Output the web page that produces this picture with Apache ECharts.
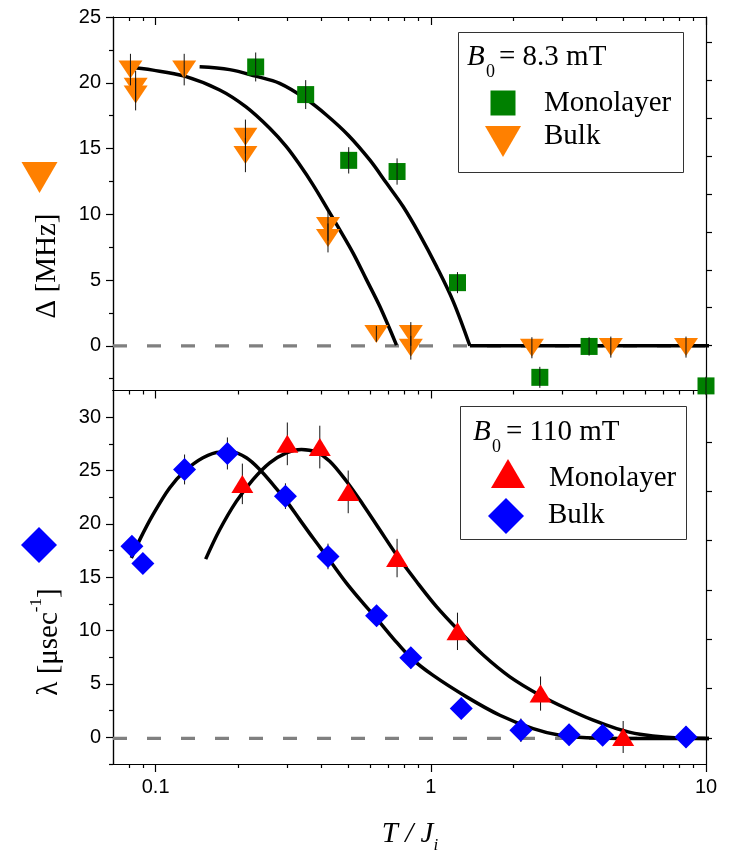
<!DOCTYPE html>
<html>
<head>
<meta charset="utf-8">
<script src="https://cdn.jsdelivr.net/npm/echarts@6.0.0/dist/echarts.min.js"></script>
<style>
  html, body { margin: 0; padding: 0; background: #fff; }
  #main { width: 731px; height: 850px; }
</style>
</head>
<body>
<div id="main"></div>
<script>
// ---- ticks ----
var xMajor = [0.1, 1, 10];
var xMinor = [0.08, 0.09, 0.2, 0.3, 0.4, 0.5, 0.6, 0.7, 0.8, 0.9, 2, 3, 4, 5, 6, 7, 8, 9];
var yTopMajor = [0, 5, 10, 15, 20, 25];
var yTopMinor = [-2.5, 2.5, 7.5, 12.5, 17.5, 22.5];
var yTopRight = [0, 1, 2, 3, 4, 5, 6, 7, 8];
var yBotMajor = [0, 5, 10, 15, 20, 25, 30];
var yBotMinor = [-2.5, 2.5, 7.5, 12.5, 17.5, 22.5, 27.5];
var yBotRight = [0, 1, 2, 3, 4, 5, 6];

// ---- top panel: Delta [MHz], B0 = 8.3 mT ----
var monoTopX = [0.231, 0.351, 0.503, 0.754, 1.25, 2.49, 3.76, 10];
var monoTopY = [21.2, 19.1, 14.1, 13.25, 4.8, -2.4, -0.05, -3.05];
var monoTopErr = [1.1, 1.1, 1.0, 1.0, 0.8, 0.8, 0.7, 0.7];

var bulkTopX = [0.081, 0.0846, 0.0846, 0.127, 0.212, 0.212, 0.423, 0.423, 0.634, 0.846, 0.846, 2.33, 4.51, 8.46];
var bulkTopY = [21.0, 19.7, 19.1, 21.0, 15.9, 14.5, 9.1, 8.2, 0.9, 0.9, -0.15, -0.15, -0.1, -0.1];
var bulkTopErr = [1.2, 1.2, 1.2, 1.2, 1.3, 1.3, 1.1, 1.1, 0.6, 0.9, 0.9, 0.8, 0.8, 0.8];

var monoFitTopX = [0.1445, 0.1858, 0.231, 0.2824, 0.35, 0.4175, 0.5004, 0.6, 0.69, 0.7931, 0.912, 1.0486, 1.2058, 1.3864];
var monoFitTopY = [21.21, 21.0, 20.5, 19.95, 18.8, 17.55, 16.03, 14.13, 12.37, 10.59, 8.44, 6.04, 3.38, 0];
var monoFlatTopX = [1.3864, 10.3];
var monoFlatTopY = [0, 0];

var bulkFitTopX = [0.0782, 0.0978, 0.1274, 0.1709, 0.2125, 0.2598, 0.2986, 0.3339, 0.3733, 0.4231, 0.4669, 0.5219, 0.5836, 0.6524, 0.7505];
var bulkFitTopY = [21.21, 20.96, 20.5, 19.45, 18.18, 16.54, 15.14, 13.76, 12.24, 10.34, 8.82, 7.05, 5.03, 3.0, 0.05];

var zeroTopX = [0.07, 10];
var zeroTopY = [0, 0];

// ---- bottom panel: lambda [usec-1], B0 = 110 mT ----
var monoBotX = [0.2066, 0.301, 0.395, 0.501, 0.754, 1.25, 2.505, 5.0];
var monoBotY = [23.75, 27.5, 27.2, 23.0, 16.8, 9.93, 4.1, 0.03];
var monoBotErr = [1.9, 2.0, 2.0, 2.0, 1.8, 1.75, 1.6, 1.5];

var bulkBotX = [0.082, 0.0899, 0.1274, 0.1823, 0.2963, 0.423, 0.635, 0.846, 1.29, 2.125, 3.18, 4.21, 8.46];
var bulkBotY = [17.9, 16.3, 25.1, 26.6, 22.6, 16.95, 11.4, 7.45, 2.7, 0.66, 0.25, 0.19, 0.03];
var bulkBotErr = [0.8, 0.8, 1.4, 1.5, 1.2, 1.2, 1.0, 1.0, 1.0, 1.1, 1.0, 1.0, 1.0];

var monoFitBotX = [0.152, 0.1709, 0.1965, 0.2258, 0.2598, 0.2986, 0.3386, 0.3839, 0.4292, 0.4937, 0.5674, 0.6524, 0.7505, 0.8871, 1.0486, 1.257, 1.55, 1.938, 2.491, 3.114, 3.892, 4.735, 5.754, 7.194, 10.3];
var monoFitBotY = [16.7, 19.45, 22.11, 24.15, 25.72, 26.66, 26.97, 26.72, 25.88, 24.0, 21.8, 19.45, 17.1, 14.6, 12.25, 10.06, 7.71, 5.67, 3.95, 2.7, 1.6, 0.82, 0.28, 0.0, -0.1];

var bulkFitBotX = [0.0816, 0.0875, 0.0978, 0.1124, 0.1274, 0.1486, 0.1709, 0.191, 0.2137, 0.2388, 0.267, 0.2961, 0.3339, 0.3733, 0.4231, 0.4937, 0.5674, 0.6346, 0.7295, 0.8506, 1.0197, 1.3485, 1.782, 2.355, 2.944, 3.684, 5.44, 10.3];
var bulkFitBotY = [16.8, 18.5, 20.86, 23.37, 24.93, 26.19, 26.72, 26.72, 26.19, 25.1, 23.68, 22.27, 20.4, 18.67, 16.8, 14.45, 12.57, 11.15, 9.28, 7.4, 5.8, 3.79, 2.07, 0.82, 0.19, -0.03, -0.1, -0.1];

var zeroBotX = [0.07, 10];
var zeroBotY = [-0.1, -0.1];

var SERIF = '"Liberation Serif", "Times New Roman", serif';
var SANS = '"Liberation Sans", Arial, sans-serif';
var ORANGE = '#FF8000', GREEN = '#008000', RED = '#FF0000', BLUE = '#0000FF';
var TRI_DOWN = 'path://M0,0L24,0L12,18Z';
var TRI_UP = 'path://M0,18L11,0L22,18Z';

function zip(xs, ys) {
    return xs.map(function (x, i) { return [x, ys[i]]; });
}

function xAx(grid, pos, ticks, len, inside, labels) {
    return {
        type: 'log', logBase: 10, gridIndex: grid, position: pos, min: 0.07, max: 10,
        axisLine: { show: true, onZero: false, lineStyle: { color: '#000', width: 1.2 } },
        axisTick: { show: true, inside: inside, length: len, customValues: ticks, lineStyle: { color: '#000', width: 1.2 } },
        axisLabel: labels ? { customValues: labels, margin: 13, color: '#000', fontSize: 20, fontFamily: SANS } : { show: false },
        splitLine: { show: false }
    };
}

function yAx(grid, pos, min, max, ticks, len, labels) {
    return {
        type: 'value', gridIndex: grid, position: pos, min: min, max: max,
        axisLine: { show: true, onZero: false, lineStyle: { color: '#000', width: 1.2 } },
        axisTick: { show: true, inside: false, length: len, customValues: ticks, lineStyle: { color: '#000', width: 1.2 } },
        axisLabel: labels ? { customValues: labels, margin: 12, color: '#000', fontSize: 20, fontFamily: SANS } : { show: false },
        splitLine: { show: false }
    };
}

function errBars(xs, ys, errs, xi, yi, z) {
    return {
        type: 'custom', xAxisIndex: xi, yAxisIndex: yi, z: z, silent: true, clip: false,
        data: xs.map(function (x, i) { return [x, ys[i] - errs[i], ys[i] + errs[i]]; }),
        encode: { x: 0, y: [1, 2] },
        renderItem: function (params, api) {
            var lo = api.coord([api.value(0), api.value(1)]);
            var hi = api.coord([api.value(0), api.value(2)]);
            return {
                type: 'line',
                shape: { x1: lo[0], y1: lo[1], x2: hi[0], y2: hi[1] },
                style: { stroke: '#111', lineWidth: 1 }
            };
        }
    };
}

function fitLine(xs, ys, xi, yi) {
    return {
        type: 'line', xAxisIndex: xi, yAxisIndex: yi, data: zip(xs, ys),
        smooth: 0.35, showSymbol: false, z: 2, silent: true, clip: false,
        lineStyle: { color: '#000', width: 3.5 }
    };
}

function zeroLine(xs, ys, xi, yi) {
    return {
        type: 'line', xAxisIndex: xi, yAxisIndex: yi, data: zip(xs, ys),
        showSymbol: false, z: 1, silent: true,
        lineStyle: { color: '#808080', width: 3.3, type: [14, 20] }
    };
}

function scatter(xs, ys, xi, yi, symbol, size, color, z) {
    return {
        type: 'scatter', xAxisIndex: xi, yAxisIndex: yi, data: zip(xs, ys),
        symbol: symbol, symbolSize: size, clip: false, z: z,
        itemStyle: { color: color, opacity: 1 }
    };
}

var chart = echarts.init(document.getElementById('main'), null, { renderer: 'canvas' });

var option = {
    animation: false,
    backgroundColor: '#fff',
    grid: [
        { left: 113, right: 25, top: 17, height: 373.5 },
        { left: 113, right: 25, top: 390.5, height: 373.5 }
    ],
    xAxis: [
        xAx(0, 'bottom', xMajor, 8, false),
        xAx(0, 'bottom', xMinor, 4, false),
        xAx(0, 'top', xMajor, 8, true),
        xAx(0, 'top', xMinor, 4, true),
        xAx(1, 'bottom', xMajor, 8, false, xMajor),
        xAx(1, 'bottom', xMinor, 4, false)
    ],
    yAxis: [
        yAx(0, 'left', -3.4, 25, yTopMajor, 7, yTopMajor),
        yAx(0, 'left', -3.4, 25, yTopMinor, 4),
        yAx(0, 'right', -1.19, 8.68, yTopRight, 6),
        yAx(1, 'left', -2.5, 32.5, yBotMajor, 7, yBotMajor),
        yAx(1, 'left', -2.5, 32.5, yBotMinor, 4),
        yAx(1, 'right', -0.53, 7.04, yBotRight, 6)
    ],
    series: [
        zeroLine(zeroTopX, zeroTopY, 0, 0),
        fitLine(bulkFitTopX, bulkFitTopY, 0, 0),
        fitLine(monoFitTopX, monoFitTopY, 0, 0),
        fitLine(monoFlatTopX, monoFlatTopY, 0, 0),
        scatter(monoTopX, monoTopY, 0, 0, 'rect', 17, GREEN, 3),
        scatter(bulkTopX, bulkTopY, 0, 0, TRI_DOWN, [24, 18], ORANGE, 3),
        errBars(monoTopX, monoTopY, monoTopErr, 0, 0, 4),
        errBars(bulkTopX, bulkTopY, bulkTopErr, 0, 0, 4),

        zeroLine(zeroBotX, zeroBotY, 4, 3),
        errBars(monoBotX, monoBotY, monoBotErr, 4, 3, 2),
        errBars(bulkBotX, bulkBotY, bulkBotErr, 4, 3, 2),
        fitLine(monoFitBotX, monoFitBotY, 4, 3),
        fitLine(bulkFitBotX, bulkFitBotY, 4, 3),
        scatter(monoBotX, monoBotY, 4, 3, TRI_UP, [22, 18], RED, 3),
        scatter(bulkBotX, bulkBotY, 4, 3, 'diamond', [23, 23], BLUE, 3)
    ],
    graphic: [
        // axis titles
        { type: 'polygon', shape: { points: [[21.5, 162], [57.5, 162], [39.5, 193]] }, style: { fill: ORANGE } },
        {
            type: 'text', x: 47, y: 266, rotation: Math.PI / 2,
            style: { text: 'Δ [MHz]', font: '29px ' + SERIF, fill: '#000', align: 'center', verticalAlign: 'middle' }
        },
        { type: 'polygon', shape: { points: [[21, 545], [39, 527], [57, 545], [39, 563]] }, style: { fill: BLUE } },
        {
            type: 'text', x: 46, y: 642, rotation: Math.PI / 2,
            style: {
                text: '{n|λ [μsec}{s|-1}{n|]}', align: 'center', verticalAlign: 'middle',
                rich: {
                    n: { fontSize: 29, fontFamily: SERIF, color: '#000', lineHeight: 36, verticalAlign: 'bottom' },
                    s: { fontSize: 17, fontFamily: SERIF, color: '#000', lineHeight: 36, verticalAlign: 'top' }
                }
            }
        },
        {
            type: 'text', x: 410, y: 834,
            style: {
                text: '{t|T / J}{s|i}', align: 'center', verticalAlign: 'middle',
                rich: {
                    t: { fontSize: 29, fontFamily: SERIF, fontStyle: 'italic', color: '#000', lineHeight: 40, verticalAlign: 'middle' },
                    s: { fontSize: 17, fontFamily: SERIF, fontStyle: 'italic', color: '#000', lineHeight: 40, verticalAlign: 'bottom' }
                }
            }
        },

        // legend, top panel
        { type: 'rect', shape: { x: 458.5, y: 32.5, width: 225, height: 140 }, style: { fill: '#fff', stroke: '#333', lineWidth: 1 }, z: 10 },
        { type: 'text', x: 467, y: 57, z: 11, style: { text: 'B', font: 'italic 29px ' + SERIF, fill: '#000', verticalAlign: 'middle' } },
        { type: 'text', x: 486, y: 72, z: 11, style: { text: '0', font: '18px ' + SERIF, fill: '#000', verticalAlign: 'middle' } },
        { type: 'text', x: 499, y: 57, z: 11, style: { text: '= 8.3 mT', font: '29px ' + SERIF, fill: '#000', verticalAlign: 'middle' } },
        { type: 'rect', z: 11, shape: { x: 490.5, y: 90.5, width: 25, height: 25 }, style: { fill: GREEN } },
        { type: 'text', x: 544, y: 103, z: 11, style: { text: 'Monolayer', font: '29px ' + SERIF, fill: '#000', verticalAlign: 'middle' } },
        { type: 'polygon', z: 11, shape: { points: [[485, 126], [521, 126], [503, 157]] }, style: { fill: ORANGE } },
        { type: 'text', x: 544, y: 136, z: 11, style: { text: 'Bulk', font: '29px ' + SERIF, fill: '#000', verticalAlign: 'middle' } },

        // legend, bottom panel
        { type: 'rect', shape: { x: 460.5, y: 406.5, width: 226, height: 133 }, style: { fill: '#fff', stroke: '#333', lineWidth: 1 }, z: 10 },
        { type: 'text', x: 473, y: 432, z: 11, style: { text: 'B', font: 'italic 29px ' + SERIF, fill: '#000', verticalAlign: 'middle' } },
        { type: 'text', x: 492, y: 447, z: 11, style: { text: '0', font: '18px ' + SERIF, fill: '#000', verticalAlign: 'middle' } },
        { type: 'text', x: 506, y: 432, z: 11, style: { text: '= 110 mT', font: '29px ' + SERIF, fill: '#000', verticalAlign: 'middle' } },
        { type: 'polygon', z: 11, shape: { points: [[491, 488], [525, 488], [508, 459]] }, style: { fill: RED } },
        { type: 'text', x: 549, y: 478, z: 11, style: { text: 'Monolayer', font: '29px ' + SERIF, fill: '#000', verticalAlign: 'middle' } },
        { type: 'polygon', z: 11, shape: { points: [[488, 516], [506, 498], [524, 516], [506, 534]] }, style: { fill: BLUE } },
        { type: 'text', x: 548, y: 515, z: 11, style: { text: 'Bulk', font: '29px ' + SERIF, fill: '#000', verticalAlign: 'middle' } }
    ]
};

chart.setOption(option);
</script>
</body>
</html>
